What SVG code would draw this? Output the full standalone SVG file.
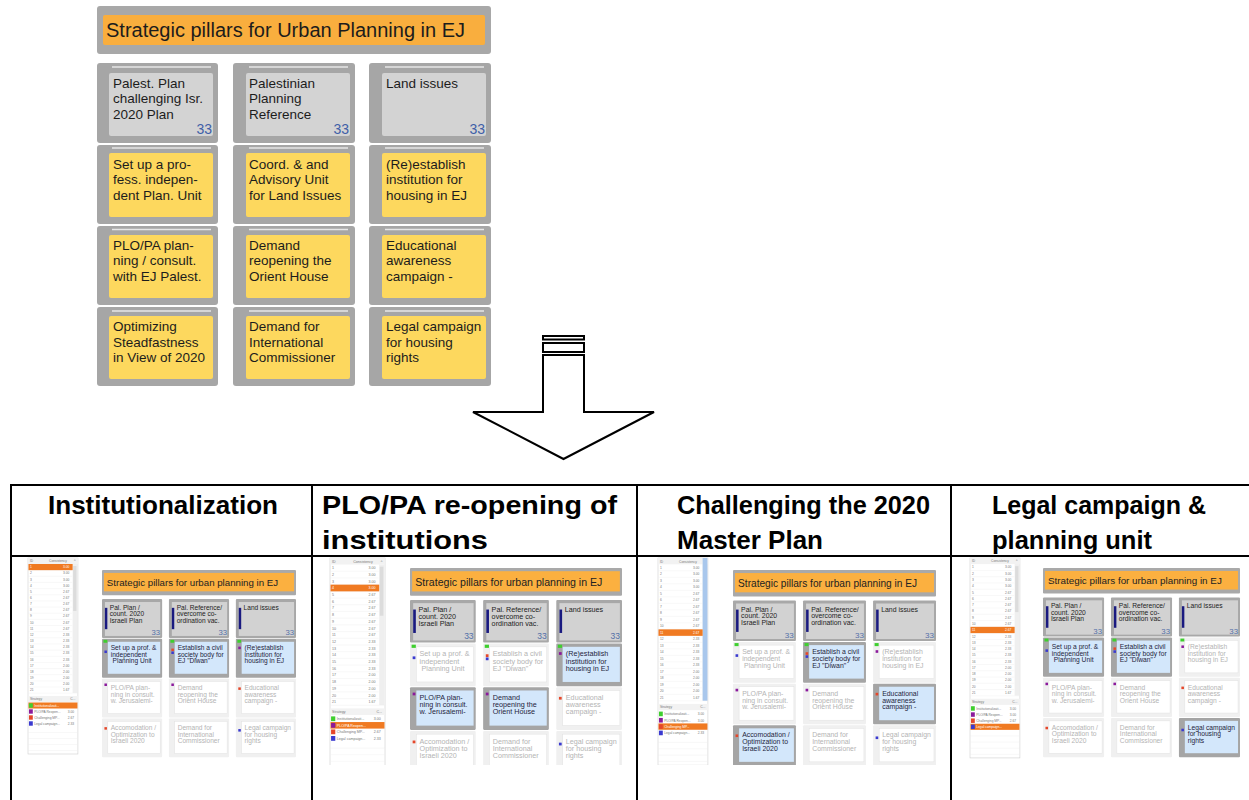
<svg xmlns="http://www.w3.org/2000/svg" xmlns:xlink="http://www.w3.org/1999/xlink" width="1249" height="800" viewBox="0 0 1249 800">
<style>
text{font-family:"Liberation Sans",Arial,sans-serif}
.pan{fill:#a6a6a6}
.hcard{fill:#d3d3d3}
.ycard{fill:#fdd85e}
.hl{stroke:#e6e6e6;stroke-width:1.5}
.ct{font-size:13.5px;fill:#1c1c1c}
.n33{font-size:14px;fill:#3f5fa8;text-anchor:end}
.hdr{font-size:26px;font-weight:bold;fill:#000}
.tbl{stroke:#000;stroke-width:2;fill:none}
.arrow{stroke:#000;stroke-width:2;fill:#fff;stroke-linejoin:miter}
.sbt{font-size:3.4px;fill:#777}
.sbv{font-size:3.4px;fill:#777;text-anchor:end}
.sbl{stroke:#eeeeee;stroke-width:0.4}
.hiw{font-size:3.4px;fill:#fff}
</style>
<defs>
<clipPath id="bodyClip"><rect x="0" y="557" width="1249" height="208"/></clipPath>
<!-- sidebar base -->
<g id="sbBase">
<rect x="0" y="0" width="52" height="196" fill="#fff" stroke="#cfcfcf" stroke-width="0.6"/>
<rect x="0" y="0" width="52" height="6" fill="#f2f2f2"/>
<text class="sbt" x="2" y="4.4">ID</text><text class="sbt" x="22" y="4.4">Consistency</text><text class="sbt" x="48" y="4.4">^</text>
<rect x="46.5" y="6" width="4.5" height="129" fill="#efefef"/>
<rect x="47" y="8" width="3.5" height="45" fill="#dcdcdc"/>
<g>
<line class="sbl" x1="0" x2="46" y1="12.15" y2="12.15"/><line class="sbl" x1="0" x2="46" y1="18.3" y2="18.3"/><line class="sbl" x1="0" x2="46" y1="24.45" y2="24.45"/><line class="sbl" x1="0" x2="46" y1="30.6" y2="30.6"/><line class="sbl" x1="0" x2="46" y1="36.75" y2="36.75"/><line class="sbl" x1="0" x2="46" y1="42.9" y2="42.9"/><line class="sbl" x1="0" x2="46" y1="49.05" y2="49.05"/><line class="sbl" x1="0" x2="46" y1="55.2" y2="55.2"/><line class="sbl" x1="0" x2="46" y1="61.35" y2="61.35"/><line class="sbl" x1="0" x2="46" y1="67.5" y2="67.5"/><line class="sbl" x1="0" x2="46" y1="73.65" y2="73.65"/><line class="sbl" x1="0" x2="46" y1="79.8" y2="79.8"/><line class="sbl" x1="0" x2="46" y1="85.95" y2="85.95"/><line class="sbl" x1="0" x2="46" y1="92.1" y2="92.1"/><line class="sbl" x1="0" x2="46" y1="98.25" y2="98.25"/><line class="sbl" x1="0" x2="46" y1="104.4" y2="104.4"/><line class="sbl" x1="0" x2="46" y1="110.55" y2="110.55"/><line class="sbl" x1="0" x2="46" y1="116.7" y2="116.7"/><line class="sbl" x1="0" x2="46" y1="122.85" y2="122.85"/><line class="sbl" x1="0" x2="46" y1="129" y2="129"/><line class="sbl" x1="0" x2="52" y1="135.15" y2="135.15"/>
</g>
<text class="sbt" x="2" y="10.3">1</text><text class="sbv" x="43" y="10.3">3.00</text>
<text class="sbt" x="2" y="16.45">2</text><text class="sbv" x="43" y="16.45">3.00</text>
<text class="sbt" x="2" y="22.6">3</text><text class="sbv" x="43" y="22.6">3.00</text>
<text class="sbt" x="2" y="28.75">4</text><text class="sbv" x="43" y="28.75">3.00</text>
<text class="sbt" x="2" y="34.9">5</text><text class="sbv" x="43" y="34.9">2.67</text>
<text class="sbt" x="2" y="41.05">6</text><text class="sbv" x="43" y="41.05">2.67</text>
<text class="sbt" x="2" y="47.2">7</text><text class="sbv" x="43" y="47.2">2.67</text>
<text class="sbt" x="2" y="53.35">8</text><text class="sbv" x="43" y="53.35">2.67</text>
<text class="sbt" x="2" y="59.5">9</text><text class="sbv" x="43" y="59.5">2.67</text>
<text class="sbt" x="2" y="65.65">10</text><text class="sbv" x="43" y="65.65">2.67</text>
<text class="sbt" x="2" y="71.8">11</text><text class="sbv" x="43" y="71.8">2.67</text>
<text class="sbt" x="2" y="77.95">12</text><text class="sbv" x="43" y="77.95">2.33</text>
<text class="sbt" x="2" y="84.1">13</text><text class="sbv" x="43" y="84.1">2.33</text>
<text class="sbt" x="2" y="90.25">14</text><text class="sbv" x="43" y="90.25">2.33</text>
<text class="sbt" x="2" y="96.4">15</text><text class="sbv" x="43" y="96.4">2.33</text>
<text class="sbt" x="2" y="102.55">16</text><text class="sbv" x="43" y="102.55">2.33</text>
<text class="sbt" x="2" y="108.7">17</text><text class="sbv" x="43" y="108.7">2.00</text>
<text class="sbt" x="2" y="114.85">18</text><text class="sbv" x="43" y="114.85">2.00</text>
<text class="sbt" x="2" y="121">19</text><text class="sbv" x="43" y="121">2.00</text>
<text class="sbt" x="2" y="127.15">20</text><text class="sbv" x="43" y="127.15">2.00</text>
<text class="sbt" x="2" y="133.3">21</text><text class="sbv" x="43" y="133.3">1.67</text>
<rect x="0" y="138" width="52" height="6" fill="#f2f2f2"/>
<text class="sbt" x="2" y="142.3">Strategy</text><text class="sbt" x="44" y="142.3">C...</text>
<rect x="1" y="145.3" width="4" height="4.4" fill="#3fcf2f"/><text class="sbt" x="6.5" y="148.8">Institutionalizati...</text><text class="sbv" x="48" y="148.8">3.00</text>
<rect x="1" y="151.3" width="4" height="4.4" fill="#8b1a9c"/><text class="sbt" x="6.5" y="154.8">PLO/PA Reopen...</text><text class="sbv" x="48" y="154.8">3.00</text>
<rect x="1" y="157.3" width="4" height="4.4" fill="#e5472a"/><text class="sbt" x="6.5" y="160.8">Challenging MP...</text><text class="sbv" x="48" y="160.8">2.67</text>
<rect x="1" y="163.3" width="4" height="4.4" fill="#3a3ad0"/><text class="sbt" x="6.5" y="166.8">Legal campaign...</text><text class="sbv" x="48" y="166.8">2.33</text>
<line class="sbl" x1="0" x2="52" y1="174.5" y2="174.5"/><line class="sbl" x1="0" x2="52" y1="180.5" y2="180.5"/><line class="sbl" x1="0" x2="52" y1="186.5" y2="186.5"/><line class="sbl" x1="0" x2="52" y1="192.5" y2="192.5"/>
</g>
<!-- mini diagram header part -->
<g id="miniHead">
<rect x="0" y="0" width="200" height="26" rx="1" fill="#a9a9a9"/>
<rect x="2" y="3" width="196" height="19" fill="#fbb040"/>
<text x="5" y="16.5" font-size="10" fill="#222">Strategic pillars for urban planning in EJ</text>
<g transform="translate(0,30)"><rect width="62" height="40" rx="1" fill="#a8a8a8"/><rect x="3" y="3" width="57" height="35" fill="#d2d2d2"/><rect x="3" y="9" width="2.5" height="22" fill="#1a1a80"/>
<text font-size="6.8" fill="#222"><tspan x="8" y="11">Pal. Plan /</tspan><tspan x="8" y="17.7">count. 2020</tspan><tspan x="8" y="24.4">Israeli Plan</tspan></text><text x="60" y="37" font-size="8" fill="#5470a8" text-anchor="end">33</text></g>
<g transform="translate(69,30)"><rect width="62" height="40" rx="1" fill="#a8a8a8"/><rect x="3" y="3" width="57" height="35" fill="#d2d2d2"/><rect x="3" y="9" width="2.5" height="22" fill="#1a1a80"/>
<text font-size="6.8" fill="#222"><tspan x="8" y="11">Pal. Reference/</tspan><tspan x="8" y="17.7">overcome co-</tspan><tspan x="8" y="24.4">ordination vac.</tspan></text><text x="60" y="37" font-size="8" fill="#5470a8" text-anchor="end">33</text></g>
<g transform="translate(138,30)"><rect width="62" height="40" rx="1" fill="#a8a8a8"/><rect x="3" y="3" width="57" height="35" fill="#d2d2d2"/><rect x="3" y="9" width="2.5" height="22" fill="#1a1a80"/>
<text font-size="6.8" fill="#222"><tspan x="8" y="11">Land issues</tspan></text><text x="60" y="37" font-size="8" fill="#5470a8" text-anchor="end">33</text></g>
</g>
<g id="cS"><rect width="62" height="40" rx="1" fill="#a5a5a5"/><rect x="6" y="3" width="54" height="33" fill="#d3e7fb"/></g>
<g id="cU"><rect width="62" height="40" rx="1" fill="#f0f0f0"/><rect x="6" y="3" width="54" height="33" fill="#fff" stroke="#e2e2e2" stroke-width="0.5"/></g>
<g id="t21"><text font-size="6.8"><tspan x="9" y="12">Set up a prof. &amp;</tspan><tspan x="9" y="18.7">independent</tspan><tspan x="9" y="25.4"> Planning Unit</tspan></text><rect x="1.5" y="1" width="4" height="3" fill="#3fcf2f"/><rect x="2.5" y="12" width="2.6" height="2.6" fill="#3a3ad0"/></g>
<g id="t22"><text font-size="6.8"><tspan x="9" y="12">Establish a civil</tspan><tspan x="9" y="18.7">society body for</tspan><tspan x="9" y="25.4">EJ "Diwan"</tspan></text><rect x="1.5" y="1" width="4" height="3" fill="#3fcf2f"/><rect x="2.5" y="10" width="2.6" height="2.6" fill="#e5472a"/><rect x="2.5" y="13" width="2.6" height="2.6" fill="#3a3ad0"/></g>
<g id="t23"><text font-size="6.8"><tspan x="9" y="12">(Re)establish</tspan><tspan x="9" y="18.7">institution for</tspan><tspan x="9" y="25.4">housing in EJ</tspan></text><rect x="1.5" y="1" width="4" height="3" fill="#3fcf2f"/><rect x="2.5" y="8" width="2.6" height="2.6" fill="#8b1a9c"/></g>
<g id="t31"><text font-size="6.8"><tspan x="9" y="12">PLO/PA plan-</tspan><tspan x="9" y="18.7">ning in consult.</tspan><tspan x="9" y="25.4">w. Jerusalemi-</tspan></text><rect x="2.5" y="5" width="2.6" height="2.6" fill="#8b1a9c"/></g>
<g id="t32"><text font-size="6.8"><tspan x="9" y="12">Demand</tspan><tspan x="9" y="18.7">reopening the</tspan><tspan x="9" y="25.4">Orient House</tspan></text><rect x="2.5" y="5" width="2.6" height="2.6" fill="#8b1a9c"/></g>
<g id="t33"><text font-size="6.8"><tspan x="9" y="12">Educational</tspan><tspan x="9" y="18.7">awareness</tspan><tspan x="9" y="25.4">campaign -</tspan></text><rect x="2.5" y="9" width="2.6" height="2.6" fill="#e5472a"/></g>
<g id="t41"><text font-size="6.8"><tspan x="9" y="12">Accomodation /</tspan><tspan x="9" y="18.7">Optimization to</tspan><tspan x="9" y="25.4">Israeli 2020</tspan></text><rect x="2.5" y="9" width="2.6" height="2.6" fill="#e5472a"/></g>
<g id="t42"><text font-size="6.8"><tspan x="9" y="12">Demand for</tspan><tspan x="9" y="18.7">International</tspan><tspan x="9" y="25.4">Commissioner</tspan></text></g>
<g id="t43"><text font-size="6.8"><tspan x="9" y="12">Legal campaign</tspan><tspan x="9" y="18.7">for housing</tspan><tspan x="9" y="25.4">rights</tspan></text><rect x="2.5" y="11" width="2.6" height="2.6" fill="#3a3ad0"/></g>
</defs>

<rect width="1249" height="800" fill="#fff"/>

<!-- Top diagram -->
<g id="title">
<rect x="97" y="6" width="394" height="48" rx="3" fill="#a8a8a8"/>
<rect x="103" y="15" width="382" height="30" rx="2" fill="#f9ae3e"/>
<text x="106" y="37" font-size="20" fill="#1c1c1c">Strategic pillars for Urban Planning in EJ</text>
</g>

<g id="r1c1"><rect class="pan" x="97" y="63" width="121" height="80" rx="3"/><line class="hl" x1="112" x2="211" y1="67" y2="67"/><rect class="hcard" x="109" y="73" width="104" height="63" rx="2"/>
<text class="ct"><tspan x="113" y="87.5">Palest. Plan</tspan><tspan x="113" y="103">challenging Isr.</tspan><tspan x="113" y="118.5">2020 Plan</tspan></text><text class="n33" x="212" y="133.5">33</text></g>
<g id="r1c2"><rect class="pan" x="233" y="63" width="122" height="80" rx="3"/><line class="hl" x1="249" x2="348" y1="67" y2="67"/><rect class="hcard" x="246" y="73" width="104" height="63" rx="2"/>
<text class="ct"><tspan x="249" y="87.5">Palestinian</tspan><tspan x="249" y="103">Planning</tspan><tspan x="249" y="118.5">Reference</tspan></text><text class="n33" x="349" y="133.5">33</text></g>
<g id="r1c3"><rect class="pan" x="369" y="63" width="122" height="80" rx="3"/><line class="hl" x1="385" x2="484" y1="67" y2="67"/><rect class="hcard" x="382" y="73" width="104" height="63" rx="2"/>
<text class="ct"><tspan x="386" y="87.5">Land issues</tspan></text><text class="n33" x="485" y="133.5">33</text></g>

<g id="r2c1"><rect class="pan" x="97" y="145" width="121" height="79" rx="3"/><line class="hl" x1="112" x2="211" y1="148" y2="148"/><rect class="ycard" x="109" y="153" width="104" height="64" rx="2"/>
<text class="ct"><tspan x="113" y="168.5">Set up a pro-</tspan><tspan x="113" y="184">fess. indepen-</tspan><tspan x="113" y="199.5">dent Plan. Unit</tspan></text></g>
<g id="r2c2"><rect class="pan" x="233" y="145" width="122" height="79" rx="3"/><line class="hl" x1="249" x2="348" y1="148" y2="148"/><rect class="ycard" x="246" y="153" width="104" height="64" rx="2"/>
<text class="ct"><tspan x="249" y="168.5">Coord. &amp; and</tspan><tspan x="249" y="184">Advisory Unit</tspan><tspan x="249" y="199.5">for Land Issues</tspan></text></g>
<g id="r2c3"><rect class="pan" x="369" y="145" width="122" height="79" rx="3"/><line class="hl" x1="385" x2="484" y1="148" y2="148"/><rect class="ycard" x="382" y="153" width="104" height="64" rx="2"/>
<text class="ct"><tspan x="386" y="168.5">(Re)establish</tspan><tspan x="386" y="184">institution for</tspan><tspan x="386" y="199.5">housing in EJ</tspan></text></g>

<g id="r3c1"><rect class="pan" x="97" y="226" width="121" height="79" rx="3"/><line class="hl" x1="112" x2="211" y1="229.5" y2="229.5"/><rect class="ycard" x="109" y="235" width="104" height="63" rx="2"/>
<text class="ct"><tspan x="113" y="249.5">PLO/PA plan-</tspan><tspan x="113" y="265">ning / consult.</tspan><tspan x="113" y="280.5">with EJ Palest.</tspan></text></g>
<g id="r3c2"><rect class="pan" x="233" y="226" width="122" height="79" rx="3"/><line class="hl" x1="249" x2="348" y1="229.5" y2="229.5"/><rect class="ycard" x="246" y="235" width="104" height="63" rx="2"/>
<text class="ct"><tspan x="249" y="249.5">Demand</tspan><tspan x="249" y="265">reopening the</tspan><tspan x="249" y="280.5">Orient House</tspan></text></g>
<g id="r3c3"><rect class="pan" x="369" y="226" width="122" height="79" rx="3"/><line class="hl" x1="385" x2="484" y1="229.5" y2="229.5"/><rect class="ycard" x="382" y="235" width="104" height="63" rx="2"/>
<text class="ct"><tspan x="386" y="249.5">Educational</tspan><tspan x="386" y="265">awareness</tspan><tspan x="386" y="280.5">campaign -</tspan></text></g>

<g id="r4c1"><rect class="pan" x="97" y="307" width="121" height="79" rx="3"/><line class="hl" x1="112" x2="211" y1="311" y2="311"/><rect class="ycard" x="109" y="316" width="104" height="63" rx="2"/>
<text class="ct"><tspan x="113" y="331">Optimizing</tspan><tspan x="113" y="346.5">Steadfastness</tspan><tspan x="113" y="362">in View of 2020</tspan></text></g>
<g id="r4c2"><rect class="pan" x="233" y="307" width="122" height="79" rx="3"/><line class="hl" x1="249" x2="348" y1="311" y2="311"/><rect class="ycard" x="246" y="316" width="104" height="63" rx="2"/>
<text class="ct"><tspan x="249" y="331">Demand for</tspan><tspan x="249" y="346.5">International</tspan><tspan x="249" y="362">Commissioner</tspan></text></g>
<g id="r4c3"><rect class="pan" x="369" y="307" width="122" height="79" rx="3"/><line class="hl" x1="385" x2="484" y1="311" y2="311"/><rect class="ycard" x="382" y="316" width="104" height="63" rx="2"/>
<text class="ct"><tspan x="386" y="331">Legal campaign</tspan><tspan x="386" y="346.5">for housing</tspan><tspan x="386" y="362">rights</tspan></text></g>

<!-- Big arrow -->
<g id="connectors">
<rect class="arrow" x="543" y="336" width="41" height="3.5"/>
<rect class="arrow" x="543" y="343" width="41" height="9"/>
<path class="arrow" d="M543,355 V412 H473 L563.5,459 L654,412 H584 V355 Z"/>
</g>

<!-- Table -->
<g id="table">
<line class="tbl" x1="10" y1="485" x2="1249" y2="485"/>
<line class="tbl" x1="10" y1="556" x2="1249" y2="556"/>
<line class="tbl" x1="11" y1="484" x2="11" y2="800"/>
<line class="tbl" x1="312" y1="484" x2="312" y2="800"/>
<line class="tbl" x1="637" y1="484" x2="637" y2="800"/>
<line class="tbl" x1="951" y1="484" x2="951" y2="800"/>
</g>
<g id="headers">
<text class="hdr" x="48" y="514" textLength="230" lengthAdjust="spacingAndGlyphs">Institutionalization</text>
<text class="hdr" x="322" y="514" textLength="295" lengthAdjust="spacingAndGlyphs">PLO/PA re-opening of</text>
<text class="hdr" x="322" y="549" textLength="166" lengthAdjust="spacingAndGlyphs">institutions</text>
<text class="hdr" x="677" y="514" textLength="253" lengthAdjust="spacingAndGlyphs">Challenging the 2020</text>
<text class="hdr" x="677" y="549" textLength="146" lengthAdjust="spacingAndGlyphs">Master Plan</text>
<text class="hdr" x="992" y="514" textLength="214" lengthAdjust="spacingAndGlyphs">Legal campaign &amp;</text>
<text class="hdr" x="992" y="549" textLength="160" lengthAdjust="spacingAndGlyphs">planning unit</text>
</g>

<g clip-path="url(#bodyClip)">
<!-- Thumbnail 1 -->
<g id="thumb1">
<g transform="translate(28,558) scale(0.96,1)">
<use href="#sbBase"/>
<rect x="0.5" y="6" width="46" height="6.15" fill="#f07a22"/><text class="hiw" x="2" y="10.3">1</text><text class="hiw" x="43" y="10.3" text-anchor="end">3.00</text>
<rect x="0.5" y="144.5" width="51" height="6" fill="#f07a22"/><rect x="1" y="145.3" width="4" height="4.4" fill="#3fcf2f"/><text class="hiw" x="6.5" y="148.8">Institutionalizati...</text>
</g>
<g transform="translate(102,570) scale(0.97)">
<use href="#miniHead"/>
<use href="#cS" x="0" y="71"/><use href="#t21" x="0" y="71" fill="#1e1e3c"/>
<use href="#cS" x="69" y="71"/><use href="#t22" x="69" y="71" fill="#1e1e3c"/>
<use href="#cS" x="138" y="71"/><use href="#t23" x="138" y="71" fill="#1e1e3c"/>
<use href="#cU" x="0" y="112"/><use href="#t31" x="0" y="112" fill="#b4b4b4"/>
<use href="#cU" x="69" y="112"/><use href="#t32" x="69" y="112" fill="#b4b4b4"/>
<use href="#cU" x="138" y="112"/><use href="#t33" x="138" y="112" fill="#b4b4b4"/>
<use href="#cU" x="0" y="153"/><use href="#t41" x="0" y="153" fill="#b4b4b4"/>
<use href="#cU" x="69" y="153"/><use href="#t42" x="69" y="153" fill="#b4b4b4"/>
<use href="#cU" x="138" y="153"/><use href="#t43" x="138" y="153" fill="#b4b4b4"/>
</g>
</g>

<!-- Thumbnail 2 -->
<g id="thumb2">
<g transform="translate(330,558) scale(1.058,1.09)">
<use href="#sbBase"/>
<rect x="0.5" y="24.45" width="46" height="6.15" fill="#f07a22"/><text class="hiw" x="2" y="28.75">4</text><text class="hiw" x="43" y="28.75" text-anchor="end">3.00</text>
<rect x="0.5" y="150.5" width="51" height="6" fill="#f07a22"/><rect x="1" y="151.3" width="4" height="4.4" fill="#8b1a9c"/><text class="hiw" x="6.5" y="154.8">PLO/PA Reopen...</text>
</g>
<g transform="translate(410,568) scale(1.06,1.065)">
<use href="#miniHead"/>
<use href="#cU" x="0" y="71"/><use href="#t21" x="0" y="71" fill="#b4b4b4"/>
<use href="#cU" x="69" y="71"/><use href="#t22" x="69" y="71" fill="#b4b4b4"/>
<use href="#cS" x="138" y="71"/><use href="#t23" x="138" y="71" fill="#1e1e3c"/>
<use href="#cS" x="0" y="112"/><use href="#t31" x="0" y="112" fill="#1e1e3c"/>
<use href="#cS" x="69" y="112"/><use href="#t32" x="69" y="112" fill="#1e1e3c"/>
<use href="#cU" x="138" y="112"/><use href="#t33" x="138" y="112" fill="#b4b4b4"/>
<use href="#cU" x="0" y="153"/><use href="#t41" x="0" y="153" fill="#b4b4b4"/>
<use href="#cU" x="69" y="153"/><use href="#t42" x="69" y="153" fill="#b4b4b4"/>
<use href="#cU" x="138" y="153"/><use href="#t43" x="138" y="153" fill="#b4b4b4"/>
</g>
</g>

<!-- Thumbnail 3 -->
<g id="thumb3">
<g transform="translate(658,558) scale(0.96,1.057)">
<use href="#sbBase"/>
<rect x="46.5" y="0" width="5" height="135" fill="#a9c7ec"/>
<rect x="0.5" y="67.5" width="46" height="6.15" fill="#f07a22"/><text class="hiw" x="2" y="71.8">11</text><text class="hiw" x="43" y="71.8" text-anchor="end">2.67</text>
<rect x="0.5" y="156.5" width="51" height="6" fill="#f07a22"/><rect x="1" y="157.3" width="4" height="4.4" fill="#e5472a"/><text class="hiw" x="6.5" y="160.8">Challenging MP...</text>
</g>
<g transform="translate(733,570) scale(1.015,1.015)">
<use href="#miniHead"/>
<use href="#cU" x="0" y="71"/><use href="#t21" x="0" y="71" fill="#b4b4b4"/>
<use href="#cS" x="69" y="71"/><use href="#t22" x="69" y="71" fill="#1e1e3c"/>
<use href="#cU" x="138" y="71"/><use href="#t23" x="138" y="71" fill="#b4b4b4"/>
<use href="#cU" x="0" y="112"/><use href="#t31" x="0" y="112" fill="#b4b4b4"/>
<use href="#cU" x="69" y="112"/><use href="#t32" x="69" y="112" fill="#b4b4b4"/>
<use href="#cS" x="138" y="112"/><use href="#t33" x="138" y="112" fill="#1e1e3c"/>
<use href="#cS" x="0" y="153"/><use href="#t41" x="0" y="153" fill="#1e1e3c"/>
<use href="#cU" x="69" y="153"/><use href="#t42" x="69" y="153" fill="#b4b4b4"/>
<use href="#cU" x="138" y="153"/><use href="#t43" x="138" y="153" fill="#b4b4b4"/>
</g>
</g>

<!-- Thumbnail 4 -->
<g id="thumb4">
<g transform="translate(970,558) scale(0.96,1.02)">
<use href="#sbBase"/>
<rect x="0.5" y="67.5" width="46" height="6.15" fill="#f07a22"/><text class="hiw" x="2" y="71.8">11</text><text class="hiw" x="43" y="71.8" text-anchor="end">2.67</text>
<rect x="0.5" y="162.5" width="51" height="6" fill="#f07a22"/><rect x="1" y="163.3" width="4" height="4.4" fill="#3a3ad0"/><text class="hiw" x="6.5" y="166.8">Legal campaign...</text>
</g>
<g transform="translate(1043,568) scale(0.985,0.98)">
<use href="#miniHead"/>
<use href="#cS" x="0" y="71"/><use href="#t21" x="0" y="71" fill="#1e1e3c"/>
<use href="#cS" x="69" y="71"/><use href="#t22" x="69" y="71" fill="#1e1e3c"/>
<use href="#cU" x="138" y="71"/><use href="#t23" x="138" y="71" fill="#b4b4b4"/>
<use href="#cU" x="0" y="112"/><use href="#t31" x="0" y="112" fill="#b4b4b4"/>
<use href="#cU" x="69" y="112"/><use href="#t32" x="69" y="112" fill="#b4b4b4"/>
<use href="#cU" x="138" y="112"/><use href="#t33" x="138" y="112" fill="#b4b4b4"/>
<use href="#cU" x="0" y="153"/><use href="#t41" x="0" y="153" fill="#b4b4b4"/>
<use href="#cU" x="69" y="153"/><use href="#t42" x="69" y="153" fill="#b4b4b4"/>
<use href="#cS" x="138" y="153"/><use href="#t43" x="138" y="153" fill="#1e1e3c"/>
</g>
</g>
</g>
</svg>
